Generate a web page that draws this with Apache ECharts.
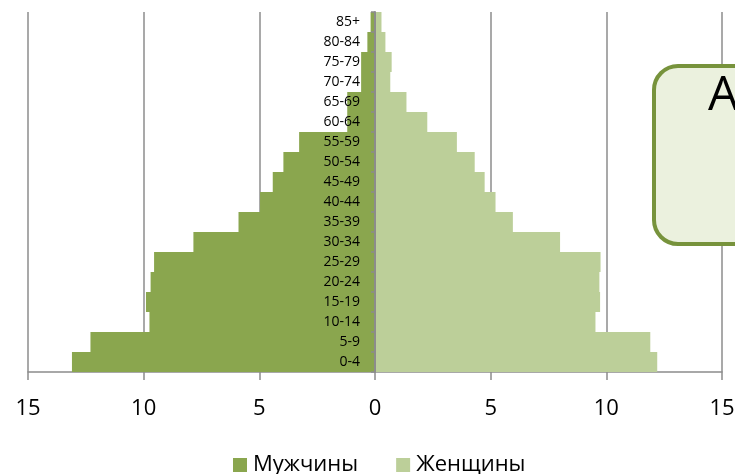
<!DOCTYPE html>
<html>
<head>
<meta charset="utf-8">
<script src="https://cdn.jsdelivr.net/npm/echarts@6/dist/echarts.min.js"></script>
<style>
  html, body { margin: 0; padding: 0; background: #ffffff; }
  #chart { width: 735px; height: 474px; }
</style>
</head>
<body>
<div id="chart"></div>
<script>
// Age groups, youngest at the bottom
const ageGroups = ['0-4', '5-9', '10-14', '15-19', '20-24', '25-29', '30-34', '35-39', '40-44',
  '45-49', '50-54', '55-59', '60-64', '65-69', '70-74', '75-79', '80-84', '85+'];

// Share of population, %
const maleValues = [13.1, 12.3, 9.75, 9.9, 9.7, 9.55, 7.85, 5.9, 4.97,
  4.42, 3.96, 3.28, 1.2, 1.2, 0.6, 0.6, 0.33, 0.19];
const femaleValues = [12.2, 11.9, 9.53, 9.73, 9.7, 9.75, 8.0, 5.96, 5.21,
  4.74, 4.31, 3.54, 2.26, 1.36, 0.66, 0.72, 0.45, 0.28];

const xTicks = [-15, -10, -5, 0, 5, 10, 15];

const FONT = '"Open Sans", "Noto Sans", sans-serif';
const GRID_GRAY = '#8c8c8c';

const GRID_LEFT = 28;
const GRID_RIGHT = 13;
const PLOT_WIDTH = 735 - GRID_LEFT - GRID_RIGHT;

const chart = echarts.init(document.getElementById('chart'), null, { renderer: 'canvas' });

chart.setOption({
  animation: false,
  backgroundColor: '#ffffff',
  textStyle: { fontFamily: FONT },
  grid: {
    left: GRID_LEFT, right: GRID_RIGHT, top: 12, bottom: 102,
    containLabel: false, outerBoundsMode: 'none'
  },
  legend: {
    left: 228,
    top: 449,
    itemWidth: 14,
    itemHeight: 14,
    itemGap: 38,
    icon: 'rect',
    textStyle: { fontFamily: FONT, fontSize: 22, color: '#000000', padding: [0, 0, 0, 1] },
    data: ['Мужчины', 'Женщины']
  },
  xAxis: {
    type: 'value',
    min: xTicks[0],
    max: xTicks[xTicks.length - 1],
    interval: 5,
    axisLine: { show: true, onZero: false, lineStyle: { color: GRID_GRAY, width: 1.5 } },
    axisTick: { show: true, length: 8, lineStyle: { color: GRID_GRAY, width: 1.5 } },
    axisLabel: {
      margin: 26,
      fontFamily: FONT,
      fontSize: 22,
      color: '#000000',
      formatter: v => String(Math.abs(v))
    },
    splitLine: { show: true, lineStyle: { color: GRID_GRAY, width: 1.5 } }
  },
  yAxis: {
    type: 'category',
    data: ageGroups,
    z: 10,
    // the category axis sits on the zero line, labels beside it inside the plot
    offset: -PLOT_WIDTH / 2,
    axisLine: { show: true, onZero: false, lineStyle: { color: GRID_GRAY, width: 2 } },
    axisTick: { show: true, length: 4, lineStyle: { color: GRID_GRAY, width: 1.5 } },
    axisLabel: { margin: 15, fontFamily: FONT, fontSize: 14, color: '#000000' },
    splitLine: { show: false }
  },
  series: [
    {
      name: 'Мужчины',
      type: 'bar',
      stack: 'pyramid',
      barCategoryGap: '0%',
      itemStyle: { color: '#8aa64e' },
      data: maleValues.map(v => -v)
    },
    {
      name: 'Женщины',
      type: 'bar',
      stack: 'pyramid',
      barCategoryGap: '0%',
      itemStyle: { color: '#bccf99' },
      data: femaleValues
    }
  ],
  graphic: [
    {
      type: 'rect',
      z: 100,
      shape: { x: 654, y: 66, width: 140, height: 178, r: 24 },
      style: { fill: '#ebf1de', stroke: '#77933c', lineWidth: 4 }
    },
    {
      type: 'text',
      z: 101,
      left: 708,
      top: 72,
      style: { text: 'А', fontFamily: FONT, fontSize: 48, fill: '#000000' }
    }
  ]
});
</script>
</body>
</html>
